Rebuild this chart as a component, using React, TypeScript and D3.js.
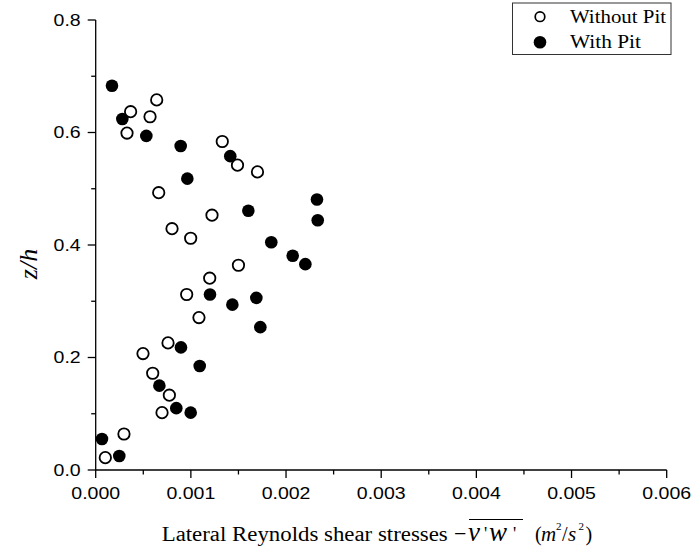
import React from "react";
import * as d3 from "d3";

const withoutPitX = [0.000641, 0.000367, 0.000571, 0.000329, 0.00133, 0.00149, 0.0017, 0.000662, 0.001222, 0.000802, 0.000998, 0.0015, 0.001198, 0.000956, 0.001085, 0.00076, 0.000497, 0.000599, 0.000774, 0.000697, 0.000297, 0.000101];
const withoutPitZ = [0.658, 0.637, 0.628, 0.599, 0.584, 0.542, 0.53, 0.493, 0.453, 0.429, 0.412, 0.364, 0.341, 0.312, 0.271, 0.226, 0.207, 0.172, 0.133, 0.102, 0.064, 0.022];
const withPitX = [0.000171, 0.00028, 0.000532, 0.000893, 0.000963, 0.001414, 0.001604, 0.002325, 0.002333, 0.001845, 0.00207, 0.002203, 0.001201, 0.001436, 0.001688, 0.00173, 0.000896, 0.001093, 0.000669, 0.000847, 0.000998, 0.000066, 0.000248];
const withPitZ = [0.683, 0.624, 0.594, 0.576, 0.518, 0.558, 0.461, 0.481, 0.444, 0.405, 0.381, 0.366, 0.312, 0.294, 0.306, 0.254, 0.218, 0.185, 0.15, 0.11, 0.102, 0.055, 0.025];
const seriesNames = ["Without Pit", "With Pit"];
const xTickValues = [0, 0.001, 0.002, 0.003, 0.004, 0.005, 0.006];
const yTickValues = [0, 0.2, 0.4, 0.6, 0.8];

const W = 691;
const H = 550;
const SANS = "'Liberation Sans', Arial, sans-serif";
const SERIF = "'Liberation Serif', 'Times New Roman', serif";

export default function App() {
  const x = d3.scaleLinear().domain([0, 0.006]).range([95.7, 666.7]);
  const y = d3.scaleLinear().domain([0, 0.8]).range([470, 20]);
  const fx = d3.format(".3f");
  const fy = d3.format(".1f");
  const xMinor = d3.range(0.0005, 0.006, 0.001);
  const yMinor = d3.range(0.1, 0.8, 0.2);
  const x0 = x(0);
  const y0 = y(0);
  const withPit = withPitX.map((v, i) => ({ x: v, z: withPitZ[i] }));
  const withoutPit = withoutPitX.map((v, i) => ({ x: v, z: withoutPitZ[i] }));
  const stroke = "#000";
  const sw = 1.3;
  const base = 541.2;

  return (
    <svg width={W} height={H} style={{ position: "absolute", left: 0, top: 0, background: "#fff" }}>
      <rect x={0} y={0} width={W} height={H} fill="#fff" />
      {/* axes */}
      <line x1={x0} x2={x0} y1={y(0.8)} y2={y0} stroke={stroke} strokeWidth={sw} />
      <line x1={x0} x2={x(0.006)} y1={y0} y2={y0} stroke={stroke} strokeWidth={sw} />
      {yTickValues.map((t) => (
        <g key={"yt" + t}>
          <line x1={x0 - 8} x2={x0} y1={y(t)} y2={y(t)} stroke={stroke} strokeWidth={sw} />
          <text
            transform={`translate(80.7,${y(t) + 5.7}) scale(1.22,1)`}
            textAnchor="end"
            fontFamily={SANS}
            fontSize={16}
            fill="#000"
          >
            {fy(t)}
          </text>
        </g>
      ))}
      {yMinor.map((t) => (
        <line key={"ym" + t} x1={x0 - 4.5} x2={x0} y1={y(t)} y2={y(t)} stroke={stroke} strokeWidth={sw} />
      ))}
      {xTickValues.map((t) => (
        <g key={"xt" + t}>
          <line x1={x(t)} x2={x(t)} y1={y0} y2={y0 + 8} stroke={stroke} strokeWidth={sw} />
          <text
            transform={`translate(${x(t)},${y0 + 28.5}) scale(1.22,1)`}
            textAnchor="middle"
            fontFamily={SANS}
            fontSize={16}
            fill="#000"
          >
            {fx(t)}
          </text>
        </g>
      ))}
      {xMinor.map((t) => (
        <line key={"xm" + t} x1={x(t)} x2={x(t)} y1={y0} y2={y0 + 4.5} stroke={stroke} strokeWidth={sw} />
      ))}

      {/* data */}
      {withPit.map((d, i) => (
        <circle key={"wp" + i} cx={x(d.x)} cy={y(d.z)} r={6.3} fill="#000" />
      ))}
      {withoutPit.map((d, i) => (
        <circle key={"wo" + i} cx={x(d.x)} cy={y(d.z)} r={5.7} fill="#fff" stroke="#000" strokeWidth={1.8} />
      ))}

      {/* legend */}
      <rect x={512.5} y={3} width={158.5} height={51.5} fill="#fff" stroke="#333" strokeWidth={1} />
      <circle cx={540} cy={16.7} r={4.8} fill="#fff" stroke="#000" strokeWidth={1.7} />
      <text x={570} y={22.7} fontFamily={SERIF} fontSize={18} textLength={96} lengthAdjust="spacingAndGlyphs" fill="#000">
        {seriesNames[0]}
      </text>
      <circle cx={540} cy={42.3} r={6.3} fill="#000" />
      <text x={570} y={48.3} fontFamily={SERIF} fontSize={18} textLength={71} lengthAdjust="spacingAndGlyphs" fill="#000">
        {seriesNames[1]}
      </text>

      {/* y label */}
      <text
        transform={`translate(37,264) rotate(-90)`}
        textAnchor="middle"
        fontFamily={SERIF}
        fontStyle="italic"
        fontSize={26}
        fill="#000"
      >
        z/h
      </text>

      {/* x label */}
      <g fontFamily={SERIF} fill="#000">
        <text x={161.7} y={base} fontSize={20} textLength={286} lengthAdjust="spacingAndGlyphs">
          Lateral Reynolds shear stresses
        </text>
        <text x={454} y={base - 0.5} fontSize={22}>−</text>
        <text x={468} y={base} fontSize={27} fontStyle="italic">v</text>
        <text x={484} y={base - 1} fontSize={18}>'</text>
        <text x={489} y={base} fontSize={27} fontStyle="italic">w</text>
        <text x={513} y={base - 1} fontSize={18}>'</text>
        <line x1={469} x2={523} y1={519.5} y2={519.5} stroke="#000" strokeWidth={1.2} />
        <text x={535} y={base} fontSize={20}>(</text>
        <text x={541} y={base} fontSize={21} fontStyle="italic">m</text>
        <text x={556} y={530} fontSize={11}>2</text>
        <text x={562} y={base} fontSize={20}>/</text>
        <text x={568} y={base} fontSize={21} fontStyle="italic">s</text>
        <text x={578.5} y={530} fontSize={11}>2</text>
        <text x={585.5} y={base} fontSize={20}>)</text>
      </g>
    </svg>
  );
}
